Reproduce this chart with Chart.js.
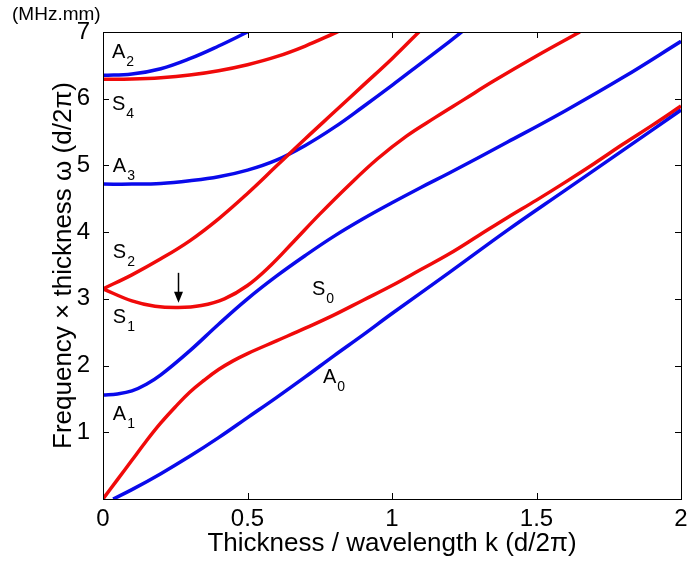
<!DOCTYPE html>
<html>
<head>
<meta charset="utf-8">
<script src="https://cdn.jsdelivr.net/npm/chart.js@4/dist/chart.umd.min.js"></script>
<style>
  html, body { margin: 0; padding: 0; background: #fff; }
</style>
</head>
<body>
<canvas id="dispersion" width="688" height="565"></canvas>
<script>
// thickness / wavelength k (d/2pi) and frequency x thickness for each Lamb mode
const a0K = [0.035, 0.1, 0.2, 0.3, 0.4, 0.5, 0.6, 0.7, 0.8, 0.9, 1.0, 1.2, 1.4, 1.6, 1.8, 2.0];
const a0F = [0, 0.14, 0.38, 0.64, 0.92, 1.22, 1.52, 1.83, 2.15, 2.46, 2.78, 3.4, 4.03, 4.63, 5.23, 5.83];

const s0K = [0, 0.05, 0.1, 0.15, 0.2, 0.25, 0.3, 0.35, 0.4, 0.45, 0.5, 0.6, 0.7, 0.8, 0.9, 1.0, 1.1, 1.2, 1.3, 1.4, 1.5, 1.6, 1.7, 1.8, 1.9, 2.0];
const s0F = [0, 0.29, 0.58, 0.87, 1.14, 1.38, 1.6, 1.78, 1.94, 2.07, 2.18, 2.37, 2.56, 2.76, 2.98, 3.2, 3.44, 3.68, 3.95, 4.22, 4.48, 4.75, 5.03, 5.32, 5.6, 5.89];

const a1K = [0, 0.05, 0.1, 0.15, 0.2, 0.3, 0.4, 0.5, 0.6, 0.7, 0.8, 0.9, 1.0, 1.1, 1.2, 1.4, 1.6, 1.8, 2.0];
const a1F = [1.56, 1.575, 1.62, 1.72, 1.86, 2.22, 2.62, 3.0, 3.34, 3.65, 3.94, 4.2, 4.44, 4.67, 4.89, 5.35, 5.82, 6.32, 6.86];

const s1K = [0, 0.1, 0.18, 0.26, 0.34, 0.42, 0.5, 0.58, 0.66, 0.75, 0.85, 0.95, 1.05, 1.15, 1.25, 1.35, 1.5, 1.65];
const s1F = [3.15, 2.97, 2.89, 2.87, 2.9, 3.0, 3.2, 3.5, 3.86, 4.27, 4.7, 5.1, 5.44, 5.72, 5.99, 6.26, 6.64, 7.0];

const s2K = [0, 0.1, 0.2, 0.3, 0.4, 0.5, 0.6, 0.7, 0.8, 0.9, 1.0, 1.1];
const s2F = [3.15, 3.36, 3.6, 3.87, 4.2, 4.58, 4.99, 5.4, 5.8, 6.2, 6.6, 7.03];

const a3K = [0, 0.1, 0.2, 0.3, 0.4, 0.5, 0.6, 0.7, 0.8, 0.9, 1.0, 1.1, 1.2, 1.25];
const a3F = [4.72, 4.72, 4.73, 4.77, 4.83, 4.93, 5.08, 5.3, 5.57, 5.88, 6.2, 6.53, 6.86, 7.03];

const s4K = [0, 0.1, 0.2, 0.3, 0.4, 0.5, 0.6, 0.7, 0.8, 0.82];
const s4F = [6.29, 6.295, 6.315, 6.355, 6.42, 6.51, 6.63, 6.79, 6.98, 7.02];

const a2K = [0, 0.1, 0.2, 0.3, 0.4, 0.5];
const a2F = [6.35, 6.37, 6.45, 6.6, 6.79, 7.0];

// mode labels: letter, subscript, anchor (k, f) of the baseline start
const labelMain = ['A', 'S', 'A', 'S', 'S', 'A', 'S', 'A'];
const labelSub = ['2', '4', '3', '2', '1', '1', '0', '0'];
const labelK = [0.031, 0.031, 0.034, 0.034, 0.034, 0.034, 0.723, 0.761];
const labelF = [6.61, 5.83, 4.90, 3.61, 2.64, 1.18, 3.06, 1.74];

// arrow pointing at the S1 minimum
const arrowK = 0.26;
const arrowFrom = 3.39;
const arrowTo = 2.94;

const kTicks = [0, 0.5, 1, 1.5, 2];
const fTicks = [0, 1, 2, 3, 4, 5, 6, 7];

const RED = 'rgb(240,10,10)';
const BLUE = 'rgb(10,10,235)';
const FONT = 'Arial, "Liberation Sans", sans-serif';

function pts(ks, fs) {
  return ks.map((k, i) => ({ x: k, y: fs[i] }));
}

function curve(ks, fs, color) {
  return {
    data: pts(ks, fs),
    borderColor: color,
    borderWidth: 3.5,
    pointRadius: 0,
    tension: 0.4,
    fill: false
  };
}

const framePlugin = {
  id: 'frame',
  afterDraw(chart) {
    const { ctx, chartArea: a, scales: { x, y } } = chart;
    ctx.save();
    ctx.strokeStyle = '#000';
    ctx.lineWidth = 1;
    ctx.strokeRect(Math.round(a.left) + 0.5, Math.round(a.top) + 0.5,
      Math.round(a.right - a.left), Math.round(a.bottom - a.top));

    // MATLAB style inward ticks on all four sides
    ctx.beginPath();
    kTicks.forEach(v => {
      const px = Math.round(x.getPixelForValue(v)) + 0.5;
      ctx.moveTo(px, a.bottom); ctx.lineTo(px, a.bottom - 6);
      ctx.moveTo(px, a.top); ctx.lineTo(px, a.top + 6);
    });
    fTicks.forEach(v => {
      const py = Math.round(y.getPixelForValue(v)) + 0.5;
      ctx.moveTo(a.left, py); ctx.lineTo(a.left + 6, py);
      ctx.moveTo(a.right, py); ctx.lineTo(a.right - 6, py);
    });
    ctx.stroke();

    // mode names with subscripts
    ctx.fillStyle = '#000';
    ctx.textBaseline = 'alphabetic';
    ctx.textAlign = 'left';
    labelMain.forEach((m, i) => {
      const px = x.getPixelForValue(labelK[i]);
      const py = y.getPixelForValue(labelF[i]);
      ctx.font = '20px ' + FONT;
      ctx.fillText(m, px, py);
      const w = ctx.measureText(m).width;
      ctx.font = '14px ' + FONT;
      ctx.fillText(labelSub[i], px + w + 1, py + 8);
    });

    // arrow
    const ax = Math.round(x.getPixelForValue(arrowK)) + 0.5;
    const ay0 = y.getPixelForValue(arrowFrom);
    const ay1 = y.getPixelForValue(arrowTo);
    ctx.beginPath();
    ctx.lineWidth = 1.5;
    ctx.moveTo(ax, ay0);
    ctx.lineTo(ax, ay1 - 8);
    ctx.stroke();
    ctx.beginPath();
    ctx.moveTo(ax - 4.5, ay1 - 11);
    ctx.lineTo(ax + 4.5, ay1 - 11);
    ctx.lineTo(ax, ay1);
    ctx.closePath();
    ctx.fill();

    // unit note above the y axis
    ctx.font = '19px ' + FONT;
    ctx.fillText('(MHz.mm)', 12, 20);
    ctx.restore();
  }
};

new Chart(document.getElementById('dispersion'), {
  type: 'line',
  data: {
    datasets: [
      curve(a0K, a0F, BLUE),
      curve(s0K, s0F, RED),
      curve(a1K, a1F, BLUE),
      curve(s1K, s1F, RED),
      curve(s2K, s2F, RED),
      curve(a3K, a3F, BLUE),
      curve(s4K, s4F, RED),
      curve(a2K, a2F, BLUE)
    ]
  },
  options: {
    responsive: false,
    animation: false,
    events: [],
    layout: { padding: { left: 48, top: 32, right: 7, bottom: 6 } },
    plugins: {
      legend: { display: false },
      tooltip: { enabled: false }
    },
    scales: {
      x: {
        type: 'linear',
        min: 0,
        max: 2,
        afterBuildTicks: s => { s.ticks = kTicks.map(v => ({ value: v })); },
        afterFit: s => { s.height = 60; },
        grid: { display: false },
        border: { display: false },
        ticks: {
          padding: -2,
          color: '#000',
          font: { family: FONT, size: 24 },
          maxRotation: 0,
          callback: v => String(v)
        },
        title: {
          display: true,
          text: 'Thickness / wavelength k (d/2\u03c0)',
          color: '#000',
          font: { family: FONT, size: 26 },
          padding: 0
        }
      },
      y: {
        type: 'linear',
        min: 0,
        max: 7,
        afterBuildTicks: s => { s.ticks = fTicks.map(v => ({ value: v })); },
        afterFit: s => { s.width = 55; },
        grid: { display: false },
        border: { display: false },
        ticks: {
          padding: 5,
          color: '#000',
          font: { family: FONT, size: 24 },
          callback: v => (v === 0 ? '' : String(v))
        },
        title: {
          display: true,
          text: 'Frequency \u00d7 thickness \u03c9 (d/2\u03c0)',
          color: '#000',
          font: { family: FONT, size: 26 },
          padding: 0
        }
      }
    }
  },
  plugins: [framePlugin]
});
</script>
</body>
</html>
